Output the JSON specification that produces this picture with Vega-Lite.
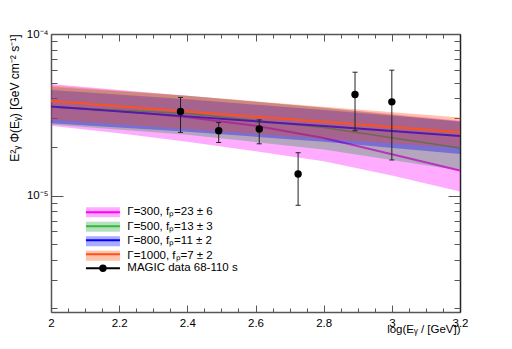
{
  "$schema": "https://vega.github.io/schema/vega-lite/v6.json",
  "width": 409,
  "height": 278,
  "autosize": {"type": "none"},
  "padding": {"left": 51, "top": 34, "right": 52, "bottom": 37},
  "background": "white",
  "config": {
    "view": {"stroke": null},
    "axis": {"grid": false, "labelFont": "Liberation Sans", "titleFont": "Liberation Sans", "labelColor": "black", "titleColor": "black", "domainColor": "#555", "tickColor": "#555", "domainWidth": 1.5, "tickWidth": 1, "titleFontWeight": "normal"},
    "legend": {"labelFont": "Liberation Sans", "labelFontSize": 11.5, "labelColor": "black", "padding": 0, "rowPadding": 1.5, "labelOffset": 18.6, "labelLimit": 300}
  },
  "datasets": {
    "bands": [
      {"m": "Γ=300, fₚ=23 ± 6", "x": 2.0, "lo": 2.70e-5, "mid": 3.55e-5, "hi": 4.90e-5},
      {"m": "Γ=300, fₚ=23 ± 6", "x": 2.2, "lo": 2.43e-5, "mid": 3.35e-5, "hi": 4.50e-5},
      {"m": "Γ=300, fₚ=23 ± 6", "x": 2.4, "lo": 2.15e-5, "mid": 3.05e-5, "hi": 4.14e-5},
      {"m": "Γ=300, fₚ=23 ± 6", "x": 2.6, "lo": 1.88e-5, "mid": 2.70e-5, "hi": 3.80e-5},
      {"m": "Γ=300, fₚ=23 ± 6", "x": 2.8, "lo": 1.63e-5, "mid": 2.27e-5, "hi": 3.49e-5},
      {"m": "Γ=300, fₚ=23 ± 6", "x": 3.0, "lo": 1.33e-5, "mid": 1.80e-5, "hi": 3.20e-5},
      {"m": "Γ=300, fₚ=23 ± 6", "x": 3.2, "lo": 1.06e-5, "mid": 1.43e-5, "hi": 2.90e-5},
      {"m": "Γ=500, fₚ=13 ± 3", "x": 2.0, "lo": 2.75e-5, "mid": 3.55e-5, "hi": 4.70e-5},
      {"m": "Γ=500, fₚ=13 ± 3", "x": 2.4, "lo": 2.38e-5, "mid": 3.22e-5, "hi": 4.15e-5},
      {"m": "Γ=500, fₚ=13 ± 3", "x": 2.8, "lo": 1.93e-5, "mid": 2.64e-5, "hi": 3.50e-5},
      {"m": "Γ=500, fₚ=13 ± 3", "x": 3.2, "lo": 1.43e-5, "mid": 1.97e-5, "hi": 2.85e-5},
      {"m": "Γ=800, fₚ=11 ± 2", "x": 2.0, "lo": 2.80e-5, "mid": 3.56e-5, "hi": 4.50e-5},
      {"m": "Γ=800, fₚ=11 ± 2", "x": 2.4, "lo": 2.48e-5, "mid": 3.09e-5, "hi": 3.95e-5},
      {"m": "Γ=800, fₚ=11 ± 2", "x": 2.8, "lo": 2.15e-5, "mid": 2.69e-5, "hi": 3.38e-5},
      {"m": "Γ=800, fₚ=11 ± 2", "x": 3.2, "lo": 1.81e-5, "mid": 2.34e-5, "hi": 2.88e-5},
      {"m": "Γ=1000, fₚ=7 ± 2", "x": 2.0, "lo": 2.95e-5, "mid": 3.85e-5, "hi": 4.80e-5},
      {"m": "Γ=1000, fₚ=7 ± 2", "x": 2.4, "lo": 2.58e-5, "mid": 3.31e-5, "hi": 4.14e-5},
      {"m": "Γ=1000, fₚ=7 ± 2", "x": 2.8, "lo": 2.25e-5, "mid": 2.86e-5, "hi": 3.55e-5},
      {"m": "Γ=1000, fₚ=7 ± 2", "x": 3.2, "lo": 1.97e-5, "mid": 2.46e-5, "hi": 3.04e-5}
    ],
    "pts": [
      {"lab": "MAGIC data 68-110 s", "x": 2.38, "val": 3.31e-5, "lo": 2.46e-5, "hi": 4.05e-5},
      {"lab": "MAGIC data 68-110 s", "x": 2.492, "val": 2.52e-5, "lo": 2.13e-5, "hi": 2.83e-5},
      {"lab": "MAGIC data 68-110 s", "x": 2.611, "val": 2.58e-5, "lo": 2.09e-5, "hi": 2.94e-5},
      {"lab": "MAGIC data 68-110 s", "x": 2.725, "val": 1.36e-5, "lo": 8.7e-6, "hi": 1.84e-5},
      {"lab": "MAGIC data 68-110 s", "x": 2.892, "val": 4.22e-5, "lo": 2.52e-5, "hi": 5.8e-5},
      {"lab": "MAGIC data 68-110 s", "x": 3.0, "val": 3.8e-5, "lo": 1.66e-5, "hi": 5.97e-5}
    ]
  },
  "resolve": {"axis": {"x": "independent", "y": "independent"}},
  "layer": [
    {
      "data": {"name": "bands"},
      "transform": [{"filter": {"field": "m", "equal": "Γ=300, fₚ=23 ± 6"}}],
      "mark": {"type": "area", "fillOpacity": 0.33, "strokeWidth": 0},
      "encoding": {
        "x": {"field": "x", "type": "quantitative", "scale": {"domain": [2, 3.2], "nice": false, "zero": false},
          "axis": {"orient": "bottom", "values": [2, 2.2, 2.4, 2.6, 2.8, 3, 3.2], "format": "~g", "tickSize": -7, "labelPadding": 12, "labelFontSize": 11.5, "labelFlush": false, "labelOverlap": false,
            "title": "log(Eᵧ / [GeV])", "titleAnchor": "end", "titleAlign": "right", "titleX": 409, "titleY": 20, "titleBaseline": "alphabetic", "titleFontSize": 11.5}},
        "y": {"field": "lo", "type": "quantitative", "scale": {"type": "log", "domain": [1.9e-6, 1e-4], "nice": false},
          "axis": {"orient": "left", "values": [1e-5, 1e-4], "tickSize": -12, "labelPadding": 15, "labelFontSize": 11.5, "labelFlush": false, "labelOverlap": false,
            "labelExpr": "datum.value > 5e-5 ? '10⁻⁴' : '10⁻⁵'",
            "title": "E²ᵧ Φ(Eᵧ) [GeV cm⁻² s⁻¹]", "titleAnchor": "end", "titleAngle": 270, "titleAlign": "right", "titleX": -33, "titleY": 0, "titleBaseline": "alphabetic", "titleFontSize": 12}},
        "y2": {"field": "hi"},
        "fill": {"field": "m", "type": "nominal",
          "scale": {"domain": ["Γ=300, fₚ=23 ± 6", "Γ=500, fₚ=13 ± 3", "Γ=800, fₚ=11 ± 2", "Γ=1000, fₚ=7 ± 2"], "range": ["#ff00ff", "#1f9e3a", "#0000ff", "#ff4b00"]},
          "legend": {"orient": "none", "legendX": 46.2, "legendY": 172.5, "title": null, "symbolType": "M-3.778,-1.111H3.778V1.111H-3.778Z", "symbolSize": 81, "symbolOpacity": 0.33, "symbolStrokeWidth": 0, "rowPadding": 1.5}}
      }
    },
    {
      "data": {"name": "bands"},
      "transform": [{"filter": {"field": "m", "equal": "Γ=300, fₚ=23 ± 6"}}],
      "mark": {"type": "line", "strokeWidth": 2},
      "encoding": {
        "x": {"field": "x", "type": "quantitative",
          "axis": {"orient": "bottom", "values": [2.05, 2.1, 2.15, 2.25, 2.3, 2.35, 2.45, 2.5, 2.55, 2.65, 2.7, 2.75, 2.85, 2.9, 2.95, 3.05, 3.1, 3.15], "tickSize": -4, "labels": false, "domain": false, "title": null}},
        "y": {"field": "mid", "type": "quantitative",
          "axis": {"orient": "left", "values": [2e-6, 3e-6, 4e-6, 5e-6, 6e-6, 7e-6, 8e-6, 9e-6, 2e-5, 3e-5, 4e-5, 5e-5, 6e-5, 7e-5, 8e-5, 9e-5], "tickSize": -6, "labels": false, "domain": false, "title": null}},
        "stroke": {"field": "m", "type": "nominal",
          "scale": {"domain": ["Γ=300, fₚ=23 ± 6", "Γ=500, fₚ=13 ± 3", "Γ=800, fₚ=11 ± 2", "Γ=1000, fₚ=7 ± 2", "MAGIC data 68-110 s"], "range": ["#ff00ff", "#33bb33", "#0000ff", "#ff5020", "black"]},
          "legend": {"orient": "none", "legendX": 46.2, "legendY": 172.5, "title": null, "symbolType": "M-3.778,0H3.778", "symbolSize": 81, "symbolStrokeWidth": 2, "labelOpacity": 0, "rowPadding": 1.0}}
      }
    },
    {
      "data": {"name": "bands"},
      "transform": [{"filter": {"field": "m", "equal": "Γ=500, fₚ=13 ± 3"}}],
      "mark": {"type": "area", "fillOpacity": 0.33, "strokeWidth": 0},
      "encoding": {
        "x": {"field": "x", "type": "quantitative",
          "axis": {"orient": "top", "values": [2, 2.2, 2.4, 2.6, 2.8, 3, 3.2], "tickSize": -7, "labels": false, "title": null}},
        "y": {"field": "lo", "type": "quantitative",
          "axis": {"orient": "right", "values": [1e-5, 1e-4], "tickSize": -12, "labels": false, "title": null, "domainColor": "#222"}},
        "y2": {"field": "hi"},
        "fill": {"field": "m", "type": "nominal"}
      }
    },
    {
      "data": {"name": "bands"},
      "transform": [{"filter": {"field": "m", "equal": "Γ=500, fₚ=13 ± 3"}}],
      "mark": {"type": "line", "strokeWidth": 1.5},
      "encoding": {
        "x": {"field": "x", "type": "quantitative",
          "axis": {"orient": "top", "values": [2.05, 2.1, 2.15, 2.25, 2.3, 2.35, 2.45, 2.5, 2.55, 2.65, 2.7, 2.75, 2.85, 2.9, 2.95, 3.05, 3.1, 3.15], "tickSize": -4, "labels": false, "domain": false, "title": null}},
        "y": {"field": "mid", "type": "quantitative",
          "axis": {"orient": "right", "values": [2e-6, 3e-6, 4e-6, 5e-6, 6e-6, 7e-6, 8e-6, 9e-6, 2e-5, 3e-5, 4e-5, 5e-5, 6e-5, 7e-5, 8e-5, 9e-5], "tickSize": -6, "labels": false, "domain": false, "title": null}},
        "stroke": {"field": "m", "type": "nominal"}
      }
    },
    {
      "data": {"name": "bands"},
      "transform": [{"filter": {"field": "m", "equal": "Γ=800, fₚ=11 ± 2"}}],
      "mark": {"type": "area", "fillOpacity": 0.33, "strokeWidth": 0},
      "encoding": {
        "x": {"field": "x", "type": "quantitative", "axis": null},
        "y": {"field": "lo", "type": "quantitative", "axis": null},
        "y2": {"field": "hi"},
        "fill": {"field": "m", "type": "nominal"}
      }
    },
    {
      "data": {"name": "bands"},
      "transform": [{"filter": {"field": "m", "equal": "Γ=800, fₚ=11 ± 2"}}],
      "mark": {"type": "line", "strokeWidth": 2},
      "encoding": {
        "x": {"field": "x", "type": "quantitative", "axis": null},
        "y": {"field": "mid", "type": "quantitative", "axis": null},
        "stroke": {"field": "m", "type": "nominal"}
      }
    },
    {
      "data": {"name": "bands"},
      "transform": [{"filter": {"field": "m", "equal": "Γ=1000, fₚ=7 ± 2"}}],
      "mark": {"type": "area", "fillOpacity": 0.33, "strokeWidth": 0},
      "encoding": {
        "x": {"field": "x", "type": "quantitative", "axis": null},
        "y": {"field": "lo", "type": "quantitative", "axis": null},
        "y2": {"field": "hi"},
        "fill": {"field": "m", "type": "nominal"}
      }
    },
    {
      "data": {"name": "bands"},
      "transform": [{"filter": {"field": "m", "equal": "Γ=1000, fₚ=7 ± 2"}}],
      "mark": {"type": "line", "strokeWidth": 2},
      "encoding": {
        "x": {"field": "x", "type": "quantitative", "axis": null},
        "y": {"field": "mid", "type": "quantitative", "axis": null},
        "stroke": {"field": "m", "type": "nominal"}
      }
    },
    {
      "data": {"name": "pts"},
      "mark": {"type": "rule", "color": "#222", "strokeWidth": 1},
      "encoding": {
        "x": {"field": "x", "type": "quantitative", "axis": null},
        "y": {"field": "lo", "type": "quantitative", "axis": null},
        "y2": {"field": "hi"}
      }
    },
    {
      "data": {"name": "pts"},
      "mark": {"type": "tick", "orient": "horizontal", "size": 5, "thickness": 1, "color": "#222", "opacity": 1},
      "encoding": {
        "x": {"field": "x", "type": "quantitative", "axis": null},
        "y": {"field": "lo", "type": "quantitative", "axis": null}
      }
    },
    {
      "data": {"name": "pts"},
      "mark": {"type": "tick", "orient": "horizontal", "size": 5, "thickness": 1, "color": "#222", "opacity": 1},
      "encoding": {
        "x": {"field": "x", "type": "quantitative", "axis": null},
        "y": {"field": "hi", "type": "quantitative", "axis": null}
      }
    },
    {
      "data": {"name": "pts"},
      "mark": {"type": "point", "filled": true, "size": 55, "color": "black", "opacity": 1},
      "encoding": {
        "x": {"field": "x", "type": "quantitative", "axis": null},
        "y": {"field": "val", "type": "quantitative", "axis": null},
        "shape": {"field": "lab", "type": "nominal",
          "scale": {"domain": ["MAGIC data 68-110 s"], "range": ["circle"]},
          "legend": {"orient": "none", "legendX": 46.2, "legendY": 228.5, "title": null, "symbolSize": 55, "symbolFillColor": "black", "symbolStrokeWidth": 0, "symbolOpacity": 1}}
      }
    }
  ]
}
